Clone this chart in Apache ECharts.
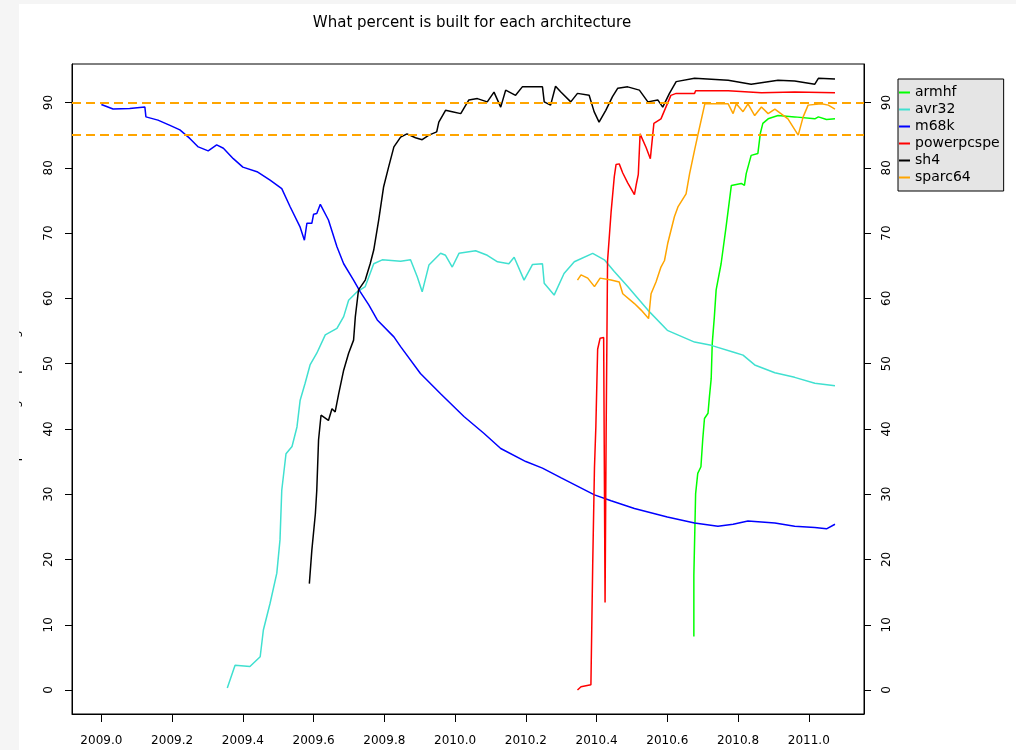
<!DOCTYPE html>
<html lang="en">
<head>
<meta charset="UTF-8" />
<title>What percent is built for each architecture</title>
<script src="https://cdn.jsdelivr.net/npm/echarts@6/dist/echarts.min.js"></script>
<style>
  html, body { margin: 0; padding: 0; background: #ffffff; }
  #main { width: 1016px; height: 750px; }
</style>
</head>
<body>
<div id="main"></div>
<script>
// tick labels
let xTicks = [2009.0, 2009.2, 2009.4, 2009.6, 2009.8, 2010.0, 2010.2, 2010.4, 2010.6, 2010.8, 2011.0];
let yTicks = [0, 10, 20, 30, 40, 50, 60, 70, 80, 90];
let refLines = [90, 85];

// series values, [year, percent]
let armhf = [[2010.675, 8.2], [2010.675, 17.6], [2010.68, 30.1], [2010.686, 33.2], [2010.695, 34.2], [2010.70, 38.3],
  [2010.705, 41.6], [2010.715, 42.4], [2010.719, 44.9], [2010.724, 47.7], [2010.727, 53.1], [2010.733, 57.2],
  [2010.738, 61.3], [2010.752, 65.3], [2010.766, 70.9], [2010.781, 77.3], [2010.809, 77.6], [2010.818, 77.3],
  [2010.823, 79.1], [2010.837, 81.9], [2010.856, 82.2], [2010.863, 85.3], [2010.87, 86.8], [2010.885, 87.5],
  [2010.913, 88.0], [2010.96, 87.8], [2011.017, 87.5], [2011.027, 87.8], [2011.05, 87.4], [2011.074, 87.5]];

let avr32 = [[2009.356, 0.3], [2009.378, 3.8], [2009.42, 3.6], [2009.449, 5.1], [2009.458, 9.2], [2009.477, 13.3],
  [2009.496, 17.9], [2009.505, 23.0], [2009.51, 30.6], [2009.522, 36.2], [2009.539, 37.3], [2009.553, 40.3],
  [2009.562, 44.4], [2009.576, 47.0], [2009.59, 49.8], [2009.609, 51.6], [2009.633, 54.4], [2009.666, 55.4],
  [2009.685, 57.2], [2009.699, 59.7], [2009.723, 61.0], [2009.746, 61.8], [2009.77, 65.3], [2009.794, 65.9],
  [2009.846, 65.7], [2009.874, 65.9], [2009.893, 63.3], [2009.907, 61.0], [2009.926, 65.1], [2009.959, 66.9],
  [2009.973, 66.6], [2009.992, 64.8], [2010.011, 66.9], [2010.058, 67.3], [2010.091, 66.6], [2010.12, 65.6],
  [2010.152, 65.3], [2010.167, 66.3], [2010.195, 62.8], [2010.219, 65.2], [2010.247, 65.3], [2010.252, 62.3],
  [2010.28, 60.5], [2010.308, 63.8], [2010.337, 65.6], [2010.389, 66.9], [2010.422, 65.9], [2010.45, 64.1],
  [2010.488, 61.8], [2010.545, 58.2], [2010.60, 55.1], [2010.677, 53.3], [2010.724, 52.8], [2010.79, 51.7],
  [2010.814, 51.3], [2010.847, 49.8], [2010.904, 48.6], [2010.96, 47.9], [2011.017, 47.0], [2011.074, 46.6]];

let m68k = [[2009.0, 89.7], [2009.033, 89.0], [2009.08, 89.1], [2009.123, 89.3], [2009.126, 87.8], [2009.16, 87.3],
  [2009.194, 86.5], [2009.222, 85.8], [2009.25, 84.5], [2009.274, 83.2], [2009.302, 82.6], [2009.326, 83.5],
  [2009.345, 83.0], [2009.373, 81.4], [2009.40, 80.1], [2009.44, 79.4], [2009.477, 78.1], [2009.51, 76.8],
  [2009.534, 74.0], [2009.562, 70.9], [2009.574, 68.9], [2009.581, 71.5], [2009.595, 71.5], [2009.60, 72.9],
  [2009.609, 73.0], [2009.619, 74.4], [2009.642, 72.0], [2009.666, 67.9], [2009.685, 65.3], [2009.713, 62.8],
  [2009.732, 61.0], [2009.756, 59.0], [2009.78, 56.7], [2009.827, 54.1], [2009.846, 52.6], [2009.902, 48.5],
  [2009.959, 45.4], [2010.025, 41.9], [2010.082, 39.3], [2010.129, 37.0], [2010.20, 35.0], [2010.247, 34.0],
  [2010.30, 32.5], [2010.394, 29.9], [2010.441, 29.0], [2010.507, 27.8], [2010.60, 26.5], [2010.677, 25.6],
  [2010.743, 25.1], [2010.786, 25.4], [2010.828, 25.9], [2010.904, 25.6], [2010.96, 25.1], [2011.017, 24.9],
  [2011.05, 24.7], [2011.074, 25.4]];

let powerpcspe = [[2010.346, 0.0], [2010.356, 0.5], [2010.384, 0.8], [2010.389, 19.0], [2010.394, 34.0],
  [2010.398, 40.4], [2010.403, 52.2], [2010.41, 53.9], [2010.42, 54.0], [2010.424, 13.4], [2010.427, 39.3],
  [2010.431, 65.7], [2010.441, 73.2], [2010.45, 78.6], [2010.455, 80.5], [2010.464, 80.6], [2010.474, 79.2],
  [2010.488, 77.7], [2010.507, 75.9], [2010.512, 77.4], [2010.518, 79.0], [2010.523, 85.2], [2010.54, 83.1],
  [2010.552, 81.4], [2010.562, 86.8], [2010.582, 87.5], [2010.596, 89.3], [2010.61, 91.1], [2010.625, 91.4],
  [2010.677, 91.4], [2010.68, 91.8], [2010.772, 91.8], [2010.866, 91.5], [2010.96, 91.6], [2011.074, 91.5]];

let sh4 = [[2009.588, 16.3], [2009.595, 21.4], [2009.605, 27.0], [2009.609, 30.6], [2009.614, 38.3], [2009.621, 42.1],
  [2009.642, 41.3], [2009.652, 43.1], [2009.661, 42.6], [2009.671, 45.4], [2009.685, 49.0], [2009.699, 51.6],
  [2009.713, 53.6], [2009.718, 57.2], [2009.727, 61.3], [2009.746, 62.8], [2009.76, 65.3], [2009.77, 67.4],
  [2009.784, 72.0], [2009.798, 77.1], [2009.812, 80.1], [2009.827, 83.2], [2009.846, 84.7], [2009.864, 85.2],
  [2009.888, 84.6], [2009.907, 84.3], [2009.926, 85.0], [2009.948, 85.5], [2009.954, 87.0], [2009.973, 88.8],
  [2009.992, 88.6], [2010.016, 88.3], [2010.039, 90.4], [2010.063, 90.6], [2010.091, 90.1], [2010.11, 91.6],
  [2010.129, 89.3], [2010.143, 91.9], [2010.171, 91.1], [2010.19, 92.4], [2010.247, 92.4], [2010.252, 90.1],
  [2010.27, 89.6], [2010.284, 92.5], [2010.299, 91.6], [2010.327, 90.1], [2010.346, 91.4], [2010.379, 91.1],
  [2010.393, 88.6], [2010.407, 87.0], [2010.426, 88.8], [2010.445, 90.9], [2010.46, 92.2], [2010.488, 92.4],
  [2010.521, 91.9], [2010.545, 90.1], [2010.573, 90.4], [2010.587, 89.3], [2010.606, 91.4], [2010.625, 93.2],
  [2010.677, 93.7], [2010.772, 93.4], [2010.837, 92.8], [2010.913, 93.4], [2010.96, 93.3], [2011.017, 92.8],
  [2011.027, 93.7], [2011.074, 93.6]];

let sparc64 = [[2010.346, 62.8], [2010.356, 63.6], [2010.375, 63.1], [2010.394, 61.8], [2010.41, 63.1],
  [2010.441, 62.8], [2010.464, 62.5], [2010.474, 60.7], [2010.507, 59.2], [2010.526, 58.2], [2010.547, 56.9],
  [2010.554, 60.7], [2010.568, 62.5], [2010.582, 64.8], [2010.592, 65.8], [2010.601, 68.4], [2010.62, 72.5],
  [2010.63, 74.0], [2010.653, 76.0], [2010.663, 79.1], [2010.677, 82.7], [2010.687, 85.2], [2010.706, 89.8],
  [2010.772, 89.8], [2010.786, 88.3], [2010.795, 89.8], [2010.814, 88.6], [2010.828, 89.8], [2010.847, 88.0],
  [2010.866, 89.3], [2010.885, 88.3], [2010.904, 89.0], [2010.941, 87.5], [2010.97, 85.0], [2010.984, 87.8],
  [2010.998, 89.6], [2011.036, 89.8], [2011.055, 89.6], [2011.074, 89.0]];

let names = ['armhf', 'avr32', 'm68k', 'powerpcspe', 'sh4', 'sparc64'];
let values = [armhf, avr32, m68k, powerpcspe, sh4, sparc64];
let colors = ['#00ff00', '#40e0d0', '#0000ff', '#ff0000', '#000000', '#ffa500'];

let myChart = echarts.init(document.getElementById('main'));

let font = 'DejaVu Sans';

let series = names.map(function (name, i) {
    return {
        name: name,
        type: 'line',
        data: values[i],
        showSymbol: false,
        symbol: 'none',
        lineStyle: { color: colors[i], width: 1.5 },
        itemStyle: { color: colors[i] },
        animation: false
    };
});

// abline(h = 90) and abline(h = 85)
series[2].markLine = {
    silent: true,
    symbol: 'none',
    label: { show: false },
    lineStyle: { color: '#ffa500', type: [9, 5], width: 2 },
    data: refLines.map(function (v) { return { yAxis: v }; })
};

function yAxisOf(pos) {
    return {
        type: 'value',
        position: pos,
        min: -3.67,
        max: 95.9,
        name: pos === 'left' ? 'percentage of packages' : '',
        nameLocation: 'middle',
        nameGap: 50,
        nameRotate: 90,
        nameTextStyle: { fontFamily: font, fontSize: 12, color: '#000' },
        axisLine: { show: true, onZero: false, lineStyle: { color: '#000', width: 1 } },
        splitLine: { show: false },
        axisTick: { show: true, customValues: yTicks, length: 7, lineStyle: { color: '#000' } },
        axisLabel: { customValues: yTicks, rotate: 90, margin: 17, fontFamily: font, fontSize: 12, color: '#000' }
    };
}

myChart.setOption({
    backgroundColor: '#ffffff',
    animation: false,
    title: {
        text: 'What percent is built for each architecture',
        left: 467,
        textAlign: 'center',
        top: 11,
        textStyle: { fontFamily: font, fontSize: 15, fontWeight: 'normal', color: '#000' }
    },
    legend: {
        data: names,
        orient: 'vertical',
        left: 898,
        top: 79,
        padding: [6, 4, 6, 1],
        itemGap: 2,
        itemWidth: 11,
        itemHeight: 2,
        icon: 'rect',
        backgroundColor: '#e5e5e5',
        borderColor: '#000',
        borderWidth: 1,
        borderRadius: 0,
        textStyle: { fontFamily: font, fontSize: 14, color: '#000', lineHeight: 15 }
    },
    grid: {
        left: 72,
        right: 152,
        top: 64,
        bottom: 36,
        show: true,
        borderColor: '#000',
        borderWidth: 1,
        backgroundColor: 'transparent'
    },
    xAxis: {
        type: 'value',
        min: 2008.917,
        max: 2011.156,
        axisLine: { show: true, onZero: false, lineStyle: { color: '#000', width: 1 } },
        splitLine: { show: false },
        axisTick: { show: true, customValues: xTicks, length: 8, lineStyle: { color: '#000' } },
        axisLabel: {
            customValues: xTicks,
            margin: 21,
            fontFamily: font,
            fontSize: 12,
            color: '#000',
            formatter: function (v) { return v.toFixed(1); }
        }
    },
    yAxis: [yAxisOf('left'), yAxisOf('right')],
    graphic: [
        { type: 'rect', left: 0, top: 0, z: 100, shape: { width: 19, height: 750 }, style: { fill: '#f5f5f5' } },
        { type: 'rect', left: 0, top: 0, z: 100, shape: { width: 1016, height: 4 }, style: { fill: '#f5f5f5' } }
    ],
    series: series
});
</script>
</body>
</html>
